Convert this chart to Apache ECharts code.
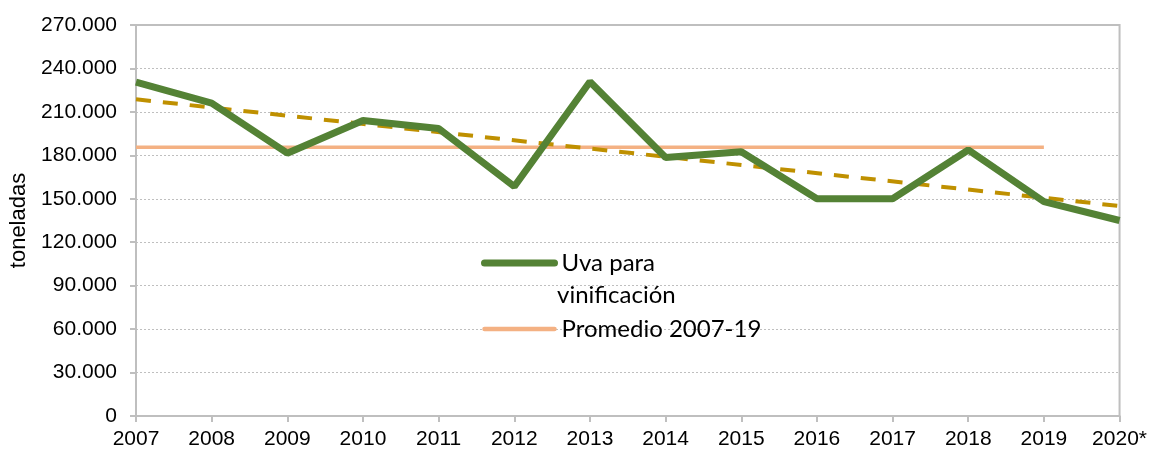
<!DOCTYPE html>
<html>
<head>
<meta charset="utf-8">
<script src="https://cdn.jsdelivr.net/npm/echarts@6/dist/echarts.min.js"></script>
<style>
html,body{margin:0;padding:0;background:#fff;}
#chart{width:1150px;height:453px;}
</style>
</head>
<body>
<div id="chart"></div>
<script>
var years = ['2007','2008','2009','2010','2011','2012','2013','2014','2015','2016','2017','2018','2019','2020*'];
var uva = [230500, 216000, 181500, 204000, 198500, 158500, 230800, 178500, 182500, 150000, 150000, 183700, 148000, 135000];
var promedio = [185500, 185500, 185500, 185500, 185500, 185500, 185500, 185500, 185500, 185500, 185500, 185500, 185500, null];
var tendencia = [218700, null, null, null, null, null, null, null, null, null, null, null, null, 145000];
var yTicks = {min: 0, max: 270000, interval: 30000};
var nameUva = 'Uva para vinificación';
var namePromedio = 'Promedio 2007-19';

function fmt(v){
  return String(v).replace(/\B(?=(\d{3})+(?!\d))/g, '.');
}

var chart = echarts.init(document.getElementById('chart'));
chart.setOption({
  animation: false,
  backgroundColor: '#fff',
  grid: {left: 136, right: 29, top: 25, bottom: 37, show: true, borderColor: '#BFBFBF', borderWidth: 2, containLabel: false},
  xAxis: {
    type: 'category',
    data: years,
    boundaryGap: false,
    axisLine: {lineStyle: {color: '#BFBFBF', width: 2}},
    axisTick: {show: true, length: 6, lineStyle: {color: '#BFBFBF', width: 2}},
    axisLabel: {color: '#000', fontFamily: 'Liberation Sans', fontSize: 21, margin: 13, interval: 0}
  },
  yAxis: {
    type: 'value',
    min: yTicks.min, max: yTicks.max, interval: yTicks.interval,
    name: 'toneladas',
    nameLocation: 'middle',
    nameGap: 104,
    nameRotate: 90,
    nameTextStyle: {color: '#000', fontFamily: 'Liberation Sans', fontSize: 22},
    axisLine: {show: true, lineStyle: {color: '#BFBFBF', width: 2}},
    axisTick: {show: true, length: 6, lineStyle: {color: '#BFBFBF', width: 2}},
    axisLabel: {color: '#000', fontFamily: 'Liberation Sans', fontSize: 21, margin: 19, formatter: fmt},
    splitLine: {show: true, lineStyle: {color: '#BFBFBF', width: 1, type: [2, 2]}}
  },
  legend: {
    orient: 'vertical',
    left: 476,
    top: 243,
    itemWidth: 70,
    itemHeight: 14,
    itemGap: 36,
    selectedMode: false,
    data: [
      {name: nameUva, itemStyle: {opacity: 0}, lineStyle: {width: 7, cap: 'round', color: '#548235'}},
      {name: namePromedio, itemStyle: {opacity: 0}, lineStyle: {width: 4.5, cap: 'round', color: '#F4B183'}}
    ],
    formatter: function(n){ return n === nameUva ? 'Uva para' : n; },
    textStyle: {color: '#000', fontFamily: 'Lato', fontSize: 24, lineHeight: 30, padding: [0,0,0,2]}
  },
  graphic: [{
    type: 'text',
    left: 557, top: 283,
    style: {text: 'vinificación', fill: '#000', font: '24px Lato'}
  }],
  series: [
    {
      name: 'Tendencia',
      type: 'line',
      data: tendencia,
      connectNulls: true,
      symbol: 'none',
      lineStyle: {color: '#BF9000', width: 4, type: [15, 12]},
      z: 3
    },
    {
      name: namePromedio,
      type: 'line',
      data: promedio,
      symbol: 'none',
      itemStyle: {color: '#F4B183'},
      lineStyle: {color: '#F4B183', width: 3.5},
      z: 2
    },
    {
      name: nameUva,
      type: 'line',
      data: uva,
      symbol: 'none',
      itemStyle: {color: '#548235'},
      lineStyle: {color: '#548235', width: 7},
      z: 4
    }
  ]
});
</script>
</body>
</html>
